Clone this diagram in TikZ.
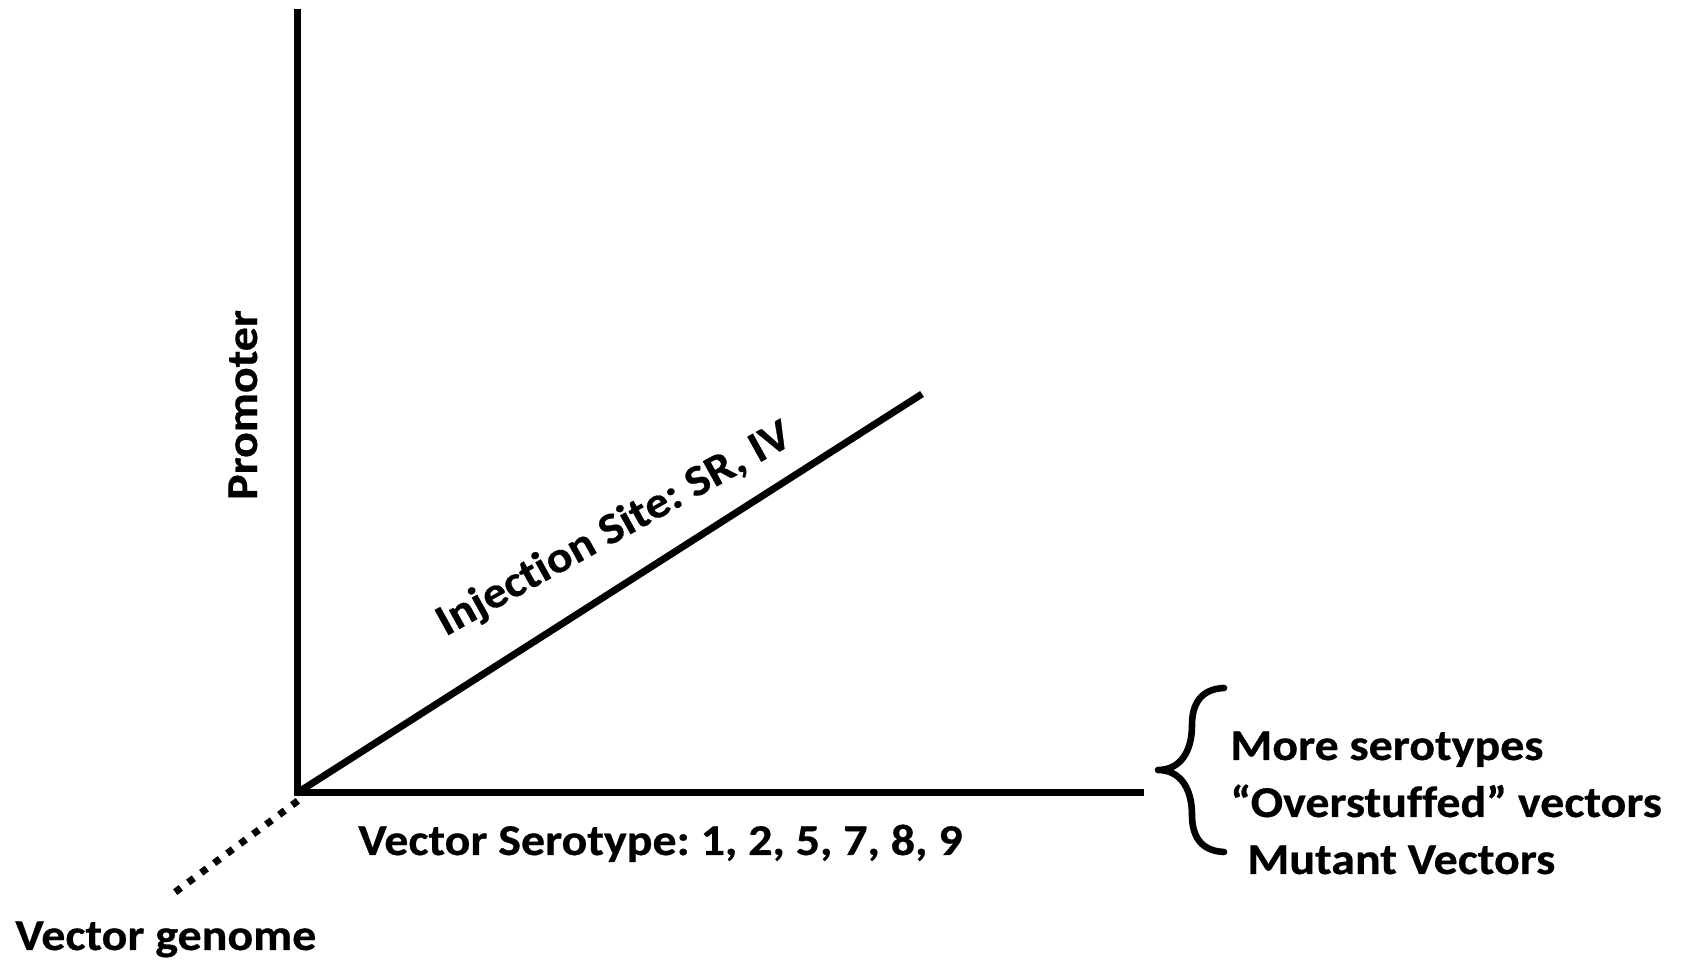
\documentclass[tikz,border=0pt]{standalone}
\usepackage{fontspec}
\setmainfont{Carlito}[FakeStretch=1.09,Ligatures={NoCommon},BoldFeatures={FakeBold=0.6}]
\frenchspacing
\begin{document}
\begin{tikzpicture}[x=0.5pt,y=-0.5pt,
  axisline/.style={line width=3.5pt,line cap=butt,line join=miter},
  lbl/.style={inner sep=0pt,font=\bfseries\fontsize{22}{26}\selectfont}]
\useasboundingbox (0,0) rectangle (1683,961);
\coordinate (origin) at (297,793);
\coordinate (ytop) at (297,9);
\coordinate (xend) at (1144,793);
\coordinate (dend) at (922,394);
\coordinate (dotstart) at (297.8,800.9);
\coordinate (dotend) at (175.2,892.1);
\draw[axisline] (ytop) -- (origin) -- (xend);
\draw[axisline] (origin) -- (dend);
\draw[line width=3.5pt,line cap=butt,dash pattern=on 3.5pt off 4.6pt] (dotstart) -- (dotend);
% brace
\draw[line width=3.3pt,line cap=round,line join=round]
  (1224,688) .. controls (1200,689) and (1192,705) .. (1192,725)
  .. controls (1192,752) and (1180,770) .. (1158,770)
  .. controls (1180,770) and (1192,788) .. (1192,815)
  .. controls (1192,835) and (1200,851) .. (1224,852);
% labels
\node[lbl,rotate=90,anchor=base] (prom) at (257,405) {Promoter};
\node[lbl,rotate=29,anchor=base] (inj) at (620,540) {Injection Site: SR, IV};
\node[lbl,anchor=base west] (vs) at (358,855) {Vector Serotype: 1, 2, 5, 7, 8, 9};
\node[lbl,anchor=base west] (vg) at (15,950) {Vector genome};
\node[lbl,anchor=base west] (m1) at (1230,760) {More serotypes};
\node[lbl,anchor=base west] (m2) at (1230,817) {“Overstuffed” vectors};
\node[lbl,anchor=base west] (m3) at (1247,874) {Mutant Vectors};
\end{tikzpicture}
\end{document}
